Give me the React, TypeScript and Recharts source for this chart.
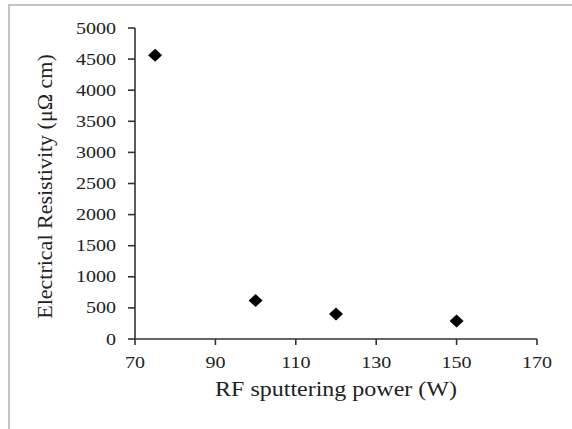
import { ScatterChart, Scatter, XAxis, YAxis, Label } from 'recharts'

// RF power (W) vs electrical resistivity (µΩ cm)
const power = [75, 100, 120, 150]
const resistivity = [4560, 620, 400, 290]
const xTicks = [70, 90, 110, 130, 150, 170]
const yTicks = [0, 500, 1000, 1500, 2000, 2500, 3000, 3500, 4000, 4500, 5000]

const points = power.map((p, i) => ({ power: p, resistivity: resistivity[i] }))

const FONT = '"Liberation Serif", "Times New Roman", serif'
const INK = '#222'
const AXIS = '#333'

const XTick = ({ x, y, payload }: any) => (
  <text
    transform={`translate(${x},${y + 21}) scale(1.18,1)`}
    textAnchor="middle"
    fontFamily={FONT}
    fontSize={17}
    fill={INK}
  >
    {payload.value}
  </text>
)

const YTick = ({ x, y, payload }: any) => (
  <text
    transform={`translate(${x - 10},${y + 5.5}) scale(1.18,1)`}
    textAnchor="end"
    fontFamily={FONT}
    fontSize={17}
    fill={INK}
  >
    {payload.value}
  </text>
)

const Diamond = ({ cx, cy }: any) => (
  <polygon
    points={`${cx},${cy - 6.5} ${cx + 7},${cy} ${cx},${cy + 6.5} ${cx - 7},${cy}`}
    fill="#000"
  />
)

export default function App() {
  return (
    <div
      style={{
        position: 'absolute',
        left: 0,
        top: 0,
        width: 572,
        height: 429,
        overflow: 'hidden',
        background: '#fff',
      }}
    >
      <div
        style={{
          position: 'absolute',
          left: 8,
          top: 4,
          width: 640,
          height: 520,
          border: '2px solid #c4c4c4',
        }}
      />
      <div style={{ position: 'absolute', left: 0, top: 0 }}>
        <ScatterChart
          width={572}
          height={429}
          margin={{ top: 28, right: 35, bottom: 60, left: 75 }}
        >
          <XAxis
            type="number"
            dataKey="power"
            domain={[70, 170]}
            ticks={xTicks}
            height={30}
            tickSize={6}
            tick={XTick}
            axisLine={{ stroke: AXIS, strokeWidth: 1.6 }}
            tickLine={{ stroke: AXIS, strokeWidth: 1.6 }}
          >
            <Label
              content={({ viewBox }: any) => (
                <text
                  transform={`translate(${viewBox.x + viewBox.width / 2},396) scale(1.2,1)`}
                  textAnchor="middle"
                  fontFamily={FONT}
                  fontSize={20}
                  fill={INK}
                >
                  RF sputtering power (W)
                </text>
              )}
            />
          </XAxis>
          <YAxis
            type="number"
            dataKey="resistivity"
            domain={[0, 5000]}
            ticks={yTicks}
            width={60}
            tickSize={7}
            tick={YTick}
            axisLine={{ stroke: AXIS, strokeWidth: 1.6 }}
            tickLine={{ stroke: AXIS, strokeWidth: 1.6 }}
          >
            <Label
              content={({ viewBox }: any) => (
                <text
                  transform={`translate(52,${viewBox.y + viewBox.height / 2 + 3}) rotate(-90)`}
                  textAnchor="middle"
                  fontFamily={FONT}
                  fontSize={22}
                  fill={INK}
                >
                  Electrical Resistivity (μΩ cm)
                </text>
              )}
            />
          </YAxis>
          <Scatter data={points} shape={Diamond} isAnimationActive={false} />
        </ScatterChart>
      </div>
    </div>
  )
}
